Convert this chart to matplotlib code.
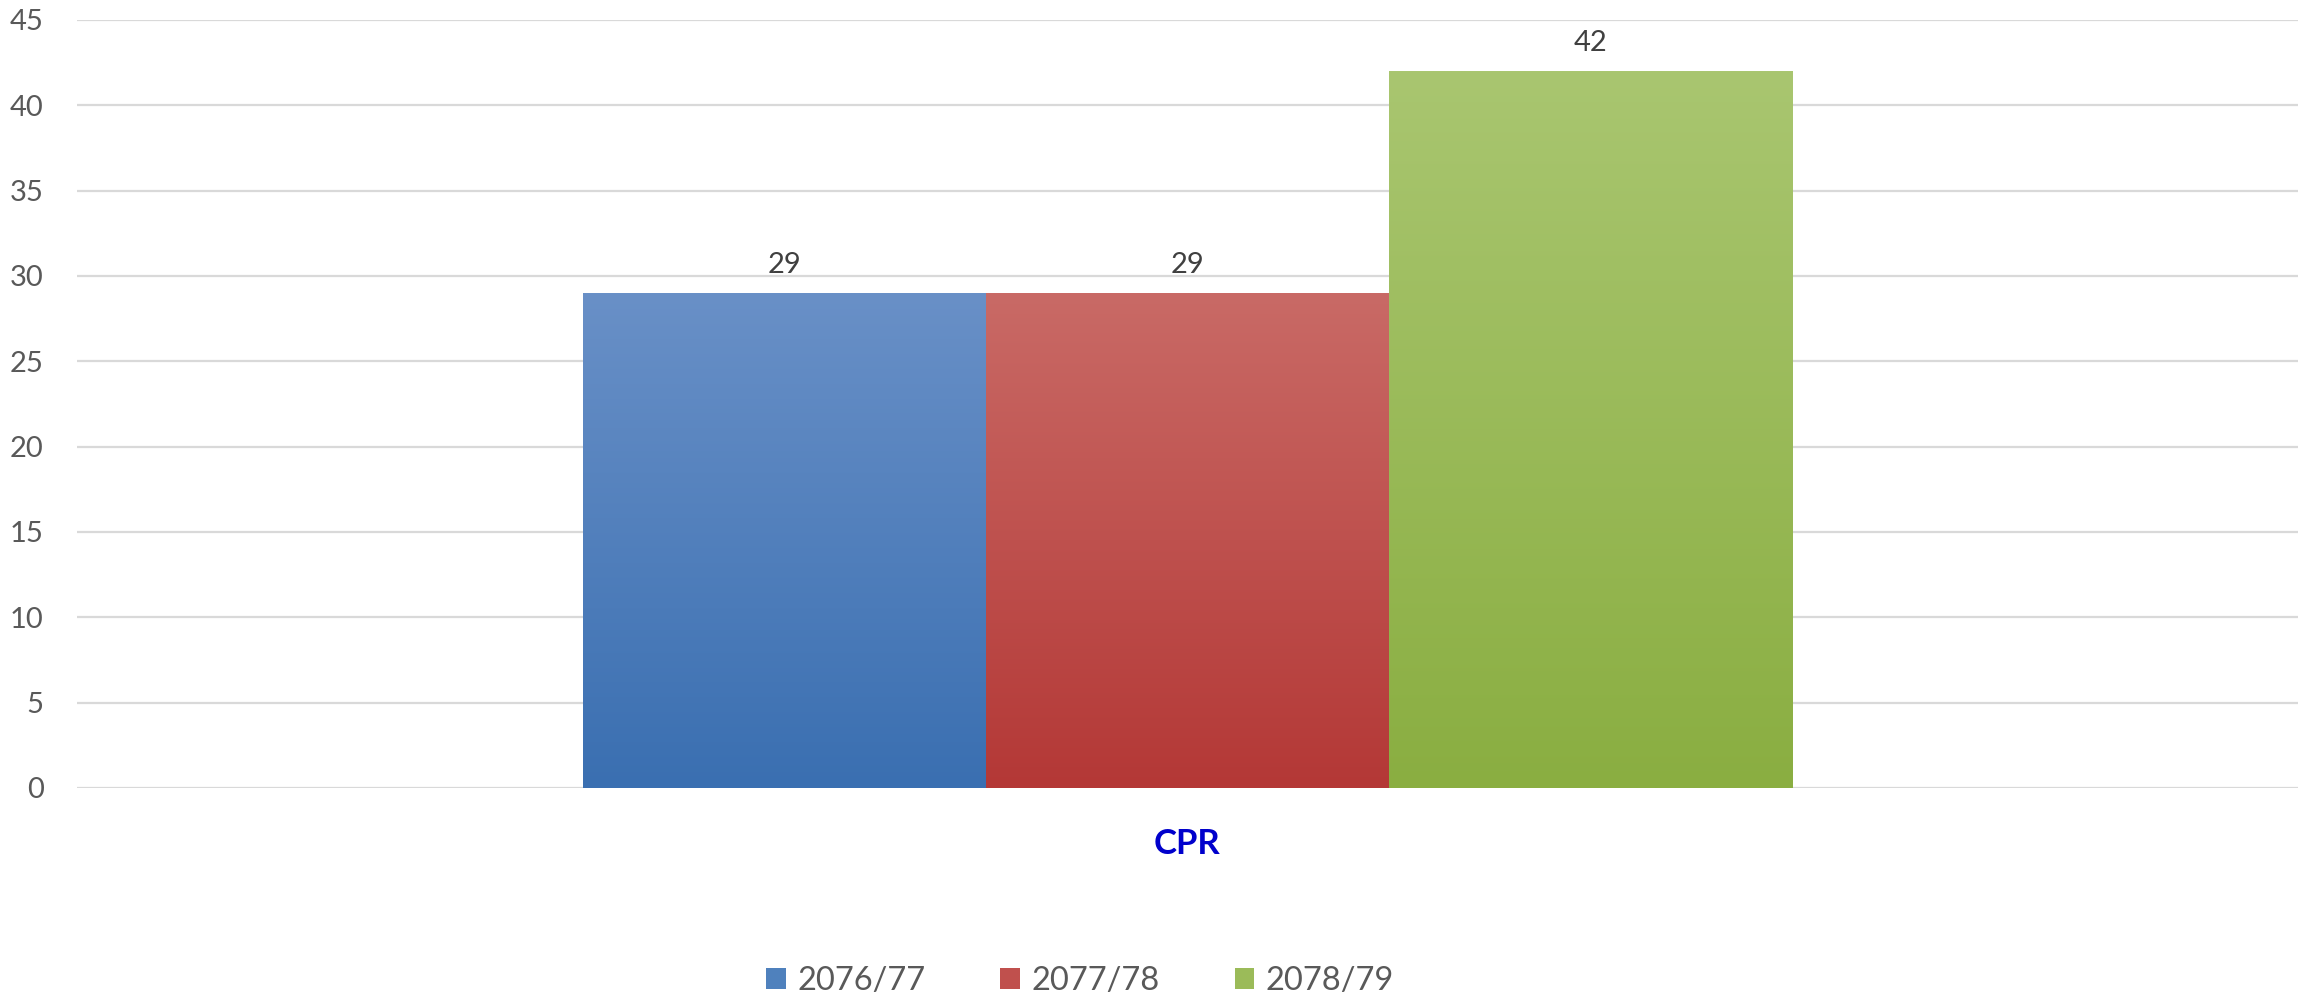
import numpy as np
import matplotlib

matplotlib.use("Agg")
import matplotlib.pyplot as plt
from matplotlib.colors import LinearSegmentedColormap
from matplotlib.patches import Patch

# data
category = "CPR"
years = ["2076/77", "2077/78", "2078/79"]
values = [29, 29, 42]
yticks = [0, 5, 10, 15, 20, 25, 30, 35, 40, 45]

# gradient colours (top, bottom) per series
grad_top = ["#6990C7", "#C96A66", "#A9C670"]
grad_bot = ["#3A6FB1", "#B43836", "#8AAE41"]
legend_col = ["#4F81BD", "#C0504D", "#9BBB59"]

plt.rcParams["font.family"] = ["Lato", "DejaVu Sans"]

fig = plt.figure(figsize=(23.13, 10.0), dpi=100)
ax = fig.add_axes([0.0333, 0.212, 0.9602, 0.768])

bar_w = 0.1815
offsets = (np.arange(len(values)) - 1) * bar_w
grad = np.linspace(1, 0, 256).reshape(-1, 1)
for i, (x, v) in enumerate(zip(offsets, values)):
    cmap = LinearSegmentedColormap.from_list(f"g{i}", [grad_bot[i], grad_top[i]])
    ax.imshow(grad, cmap=cmap, aspect="auto", extent=[x - bar_w / 2, x + bar_w / 2, 0, v],
              origin="upper", zorder=3, vmin=0, vmax=1)
    ax.annotate(str(v), (x, v), xytext=(0, 11), textcoords="offset points",
                ha="center", va="bottom", fontsize=21, color="#404040")

ax.set_xlim(-0.5, 0.5)
ax.set_ylim(0, 45)
ax.set_yticks(yticks)
ax.set_xticks([])
ax.yaxis.grid(True, color="#D9D9D9", linewidth=1.6, zorder=0)
ax.set_axisbelow(True)
for s in ax.spines.values():
    s.set_visible(False)
ax.tick_params(axis="y", length=0, pad=24, labelsize=21, labelcolor="#595959")

fig.text(0.513, 0.156, category, ha="center", va="center", fontsize=25,
         fontweight="bold", color="#0000CC")

handles = [Patch(facecolor=c, edgecolor="none") for c in legend_col]
fig.legend(handles, years, loc="center", bbox_to_anchor=(0.467, 0.019), ncol=3,
           frameon=False, fontsize=23.5, labelcolor="#595959", handlelength=0.6,
           handleheight=0.6, handletextpad=0.35, columnspacing=2.3)

fig.savefig("out.png", dpi=100)
plt.close(fig)
